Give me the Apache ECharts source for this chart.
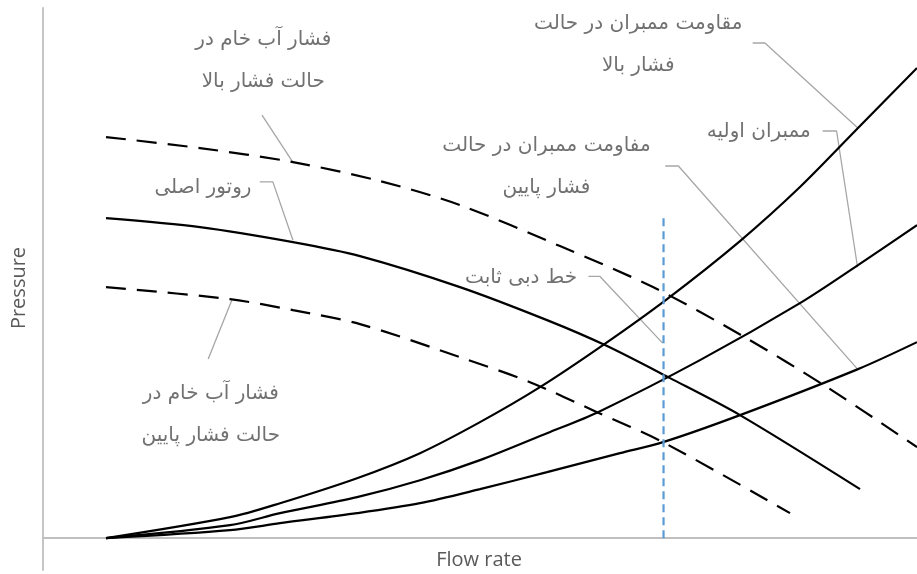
<!DOCTYPE html>
<html>
<head>
<meta charset="utf-8">
<script src="https://cdn.jsdelivr.net/npm/echarts@6/dist/echarts.min.js"></script>
<style>
html,body{margin:0;padding:0;background:#fff;}
#chart{width:917px;height:574px;}
</style>
</head>
<body>
<div id="chart"></div>
<script>
// ---- Data (arbitrary units 0..100) ----
// System (membrane resistance) curves
const resHighX = [7.21, 21.40, 27.12, 35.93, 43.14, 50.00, 56.86, 64.07, 71.40, 79.75, 86.61, 93.25, 100];
const resHighY = [0, 3.96, 6.60, 11.32, 16.04, 21.89, 28.49, 36.42, 45.10, 56.04, 66.23, 77.36, 88.68];

const resInitX = [7.21, 21.40, 27.12, 35.93, 43.14, 50.00, 57.67, 63.50, 75.17, 86.61, 93.25, 100];
const resInitY = [0, 2.45, 4.72, 7.74, 10.94, 14.72, 19.81, 23.77, 33.58, 44.34, 51.51, 59.06];

const resLowX = [7.21, 21.40, 27.12, 35.93, 43.14, 50.00, 57.67, 66.02, 70.94, 79.75, 93.25, 100];
const resLowY = [0, 1.51, 2.83, 4.72, 6.60, 9.25, 12.45, 16.04, 18.11, 23.21, 31.89, 36.98];

// Pump / feed-pressure curves
const feedHighX = [7.21, 17.96, 28.60, 38.56, 47.71, 59.15, 69.79, 80.09, 89.70, 100];
const feedHighY = [75.66, 73.58, 70.94, 67.36, 62.83, 55.09, 47.36, 38.11, 28.49, 17.17];

const rotorX = [7.21, 17.96, 28.60, 36.27, 47.71, 57.67, 64.30, 71.74, 79.75, 93.48];
const rotorY = [60.38, 58.68, 55.85, 53.21, 47.36, 41.13, 36.42, 30.19, 23.21, 9.25];

const feedLowX = [7.21, 21.40, 28.60, 36.27, 47.71, 55.72, 63.39, 70.94, 85.47];
const feedLowY = [47.36, 45.09, 43.02, 40.38, 34.15, 29.43, 23.77, 18.11, 4.72];

// Constant flow line
const constFlowX = [71.0, 71.0];
const constFlowY = [0, 60.6];

// Axis titles
const xTitle = 'Flow rate';
const yTitle = 'Pressure';

// Callout labels: text, anchor position
const labelTexts = [
  'فشار آب خام در\nحالت فشار بالا',
  'روتور اصلی',
  'فشار آب خام در\nحالت فشار پایین',
  'مقاومت ممبران در حالت\nفشار بالا',
  'ممبران اولیه',
  'مفاومت ممبران در حالت\nفشار پایین',
  'خط دبی ثابت'
];
const labelX = [25.2, 18.3, 19.2, 68.1, 81.9, 57.6, 54.7];
const labelY = [90.0, 66.0, 23.2, 93.0, 76.6, 70.0, 49.2];

// Leader lines (x list, y list) for each callout
const leaderX = [
  [25.06, 28.6],
  [24.8, 26.3, 28.6],
  [18.9, 21.6],
  [81.2, 82.6, 93.2],
  [89.2, 90.8, 93.2],
  [71.2, 72.7, 93.2],
  [62.4, 63.7, 70.9]
];
const leaderY = [
  [79.8, 70.9],
  [67.2, 67.2, 56.2],
  [33.8, 44.9],
  [93.4, 93.4, 77.4],
  [76.8, 76.8, 51.1],
  [70.2, 70.2, 31.9],
  [49.4, 49.4, 36.8]
];

// ---- Build chart ----
const zip = (xs, ys) => xs.map((x, i) => [x, ys[i]]);
const chart = echarts.init(document.getElementById('chart'), null, {renderer: 'canvas'});

const curve = (name, xs, ys, dashed) => ({
  name, type: 'line', data: zip(xs, ys), smooth: 0.3, symbol: 'none', z: 5,
  lineStyle: {color: '#000', width: 2.2, type: dashed ? [20, 11] : 'solid', cap: 'butt'}
});

const series = [
  curve('resHigh', resHighX, resHighY, false),
  curve('resInit', resInitX, resInitY, false),
  curve('resLow', resLowX, resLowY, false),
  curve('feedHigh', feedHighX, feedHighY, true),
  curve('rotor', rotorX, rotorY, false),
  curve('feedLow', feedLowX, feedLowY, true),
  {
    name: 'constFlow', type: 'line', data: zip(constFlowX, constFlowY), symbol: 'none', z: 6,
    lineStyle: {color: '#5b9bd5', width: 2.2, type: [8, 5]}
  }
];

leaderX.forEach((xs, i) => {
  series.push({
    type: 'line', data: zip(xs, leaderY[i]), symbol: 'none', z: 4, silent: true,
    lineStyle: {color: '#a6a6a6', width: 1.3}
  });
});

series.push({
  type: 'scatter', symbolSize: 0, z: 7, silent: true,
  data: labelX.map((x, i) => ({value: [x, labelY[i]], label: {formatter: labelTexts[i]}})),
  label: {
    show: true, position: 'inside', color: '#4d4d4d',
    fontFamily: 'DejaVu Sans', fontSize: 20, lineHeight: 42, align: 'center', verticalAlign: 'middle'
  }
});

chart.setOption({
  animation: false,
  backgroundColor: '#fff',
  grid: {left: 43, right: 0, top: 8, bottom: 4, containLabel: false, outerBoundsMode: 'none'},
  xAxis: {
    type: 'value', min: 0, max: 100,
    axisLine: {show: true, onZero: true, lineStyle: {color: '#bfbfbf', width: 1.8}},
    axisTick: {show: false}, axisLabel: {show: false}, splitLine: {show: false}
  },
  yAxis: {
    type: 'value', min: -6, max: 100,
    axisLine: {show: true, onZero: false, lineStyle: {color: '#bfbfbf', width: 1.8}},
    axisTick: {show: false}, axisLabel: {show: false}, splitLine: {show: false}
  },
  graphic: [{
    type: 'text', x: 19, y: 288, rotation: Math.PI / 2,
    style: {text: yTitle, fill: '#595959', font: '20px "Open Sans"', align: 'center', verticalAlign: 'middle'}
  }, {
    type: 'text', x: 479, y: 560,
    style: {text: xTitle, fill: '#595959', font: '20px "Open Sans"', align: 'center', verticalAlign: 'middle'}
  }],
  series
});
</script>
</body>
</html>
